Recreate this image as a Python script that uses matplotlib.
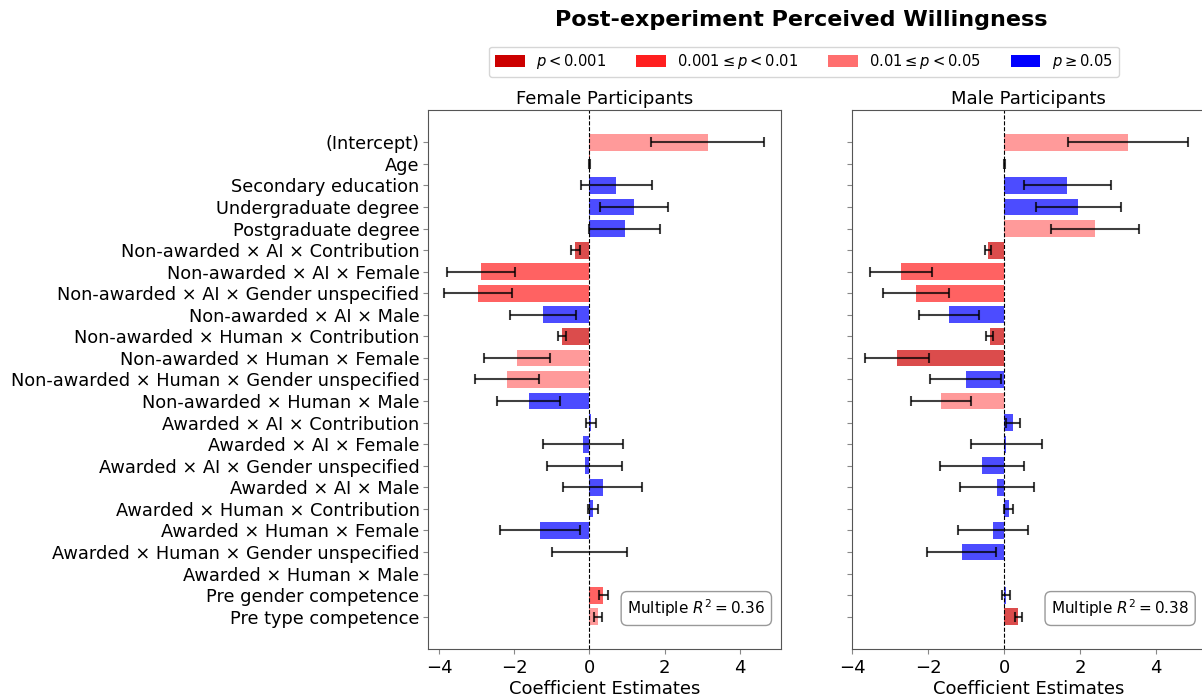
"""Post-experiment perceived willingness: coefficient plot by participant gender"""

import numpy as np
import matplotlib.pyplot as plt
from matplotlib.patches import Patch

terms = [
    "(Intercept)",
    "Age",
    "Secondary education",
    "Undergraduate degree",
    "Postgraduate degree",
    "Non-awarded \u00d7 AI \u00d7 Contribution",
    "Non-awarded \u00d7 AI \u00d7 Female",
    "Non-awarded \u00d7 AI \u00d7 Gender unspecified",
    "Non-awarded \u00d7 AI \u00d7 Male",
    "Non-awarded \u00d7 Human \u00d7 Contribution",
    "Non-awarded \u00d7 Human \u00d7 Female",
    "Non-awarded \u00d7 Human \u00d7 Gender unspecified",
    "Non-awarded \u00d7 Human \u00d7 Male",
    "Awarded \u00d7 AI \u00d7 Contribution",
    "Awarded \u00d7 AI \u00d7 Female",
    "Awarded \u00d7 AI \u00d7 Gender unspecified",
    "Awarded \u00d7 AI \u00d7 Male",
    "Awarded \u00d7 Human \u00d7 Contribution",
    "Awarded \u00d7 Human \u00d7 Female",
    "Awarded \u00d7 Human \u00d7 Gender unspecified",
    "Awarded \u00d7 Human \u00d7 Male",
    "Pre gender competence",
    "Pre type competence",
]

# female participants
female_coef = [3.15, 0.005, 0.72, 1.18, 0.94, -0.38, -2.89, -2.96, -1.24, -0.73,
               -1.93, -2.19, -1.62, 0.04, -0.17, -0.13, 0.36, 0.10, -1.32, 0.0,
               np.nan, 0.37, 0.23]
female_err = [1.50, 0.01, 0.95, 0.91, 0.95, 0.12, 0.90, 0.91, 0.88, 0.10,
              0.87, 0.85, 0.85, 0.14, 1.06, 1.00, 1.05, 0.13, 1.06, 1.00,
              np.nan, 0.12, 0.11]
# significance class: 0 p<0.001, 1 0.001<=p<0.01, 2 0.01<=p<0.05, 3 p>=0.05
female_sig = [2, 0, 3, 3, 3, 0, 1, 1, 3, 0, 2, 2, 3, 3, 3, 3, 3, 3, 3, 3, 3, 1, 2]
female_r2 = 0.36

# male participants
male_coef = [3.27, 0.005, 1.67, 1.96, 2.41, -0.43, -2.72, -2.32, -1.45, -0.38,
             -2.82, -1.01, -1.66, 0.23, 0.06, -0.58, -0.19, 0.12, -0.30, -1.12,
             np.nan, 0.06, 0.38]
male_err = [1.58, 0.01, 1.14, 1.13, 1.16, 0.08, 0.82, 0.86, 0.80, 0.10,
            0.84, 0.94, 0.79, 0.18, 0.93, 1.10, 0.97, 0.12, 0.92, 0.91,
            np.nan, 0.11, 0.09]
male_sig = [2, 0, 3, 3, 2, 0, 1, 1, 3, 0, 0, 3, 2, 3, 3, 3, 3, 3, 3, 3, 3, 3, 0]
male_r2 = 0.38

sig_colors = ["#cc0000", "#ff1f1f", "#ff6f6f", "#0000ff"]
sig_labels = [r"$p < 0.001$", r"$0.001 \leq p < 0.01$",
              r"$0.01 \leq p < 0.05$", r"$p \geq 0.05$"]

plt.rcParams["mathtext.fontset"] = "dejavusans"

fig = plt.figure(figsize=(12.02, 6.96), dpi=100)
ax_f = fig.add_axes([0.356, 0.0675, 0.294, 0.7745])
ax_m = fig.add_axes([0.7085, 0.0675, 0.294, 0.7745])

panels = [
    (ax_f, female_coef, female_err, female_sig, female_r2, "Female Participants", (-4.3, 5.11)),
    (ax_m, male_coef, male_err, male_sig, male_r2, "Male Participants", (-4.02, 5.3)),
]

y = np.arange(len(terms))
for ax, coef, err, sig, r2, title, xlim in panels:
    colors = [sig_colors[s] for s in sig]
    ax.barh(y, np.nan_to_num(coef), height=0.78, color=colors, alpha=0.7)
    ax.errorbar(coef, y, xerr=err, fmt="none", ecolor="black", alpha=0.75,
                elinewidth=1.5, capsize=3.5, capthick=1.5)
    ax.axvline(0, color="black", linestyle="--", linewidth=0.8)
    ax.set_xlim(*xlim)
    ax.set_ylim(len(terms) - 1 + 1.5, -1.5)
    ax.set_yticks(y)
    ax.set_xticks([-4, -2, 0, 2, 4])
    ax.set_title(title, fontsize=13, pad=4)
    ax.set_xlabel("Coefficient Estimates", fontsize=13, labelpad=2)
    ax.tick_params(axis="x", labelsize=13, color="#888888")
    ax.tick_params(axis="y", labelsize=12.8, color="#888888", pad=2.5)
    for sp in ax.spines.values():
        sp.set_color("#555555")
    ax.text(0.955, 0.055, f"Multiple $R^2 = {r2:.2f}$", transform=ax.transAxes,
            ha="right", va="bottom", fontsize=11,
            bbox=dict(boxstyle="round,pad=0.4", facecolor="white", edgecolor="#999999"))

ax_f.set_yticklabels(terms)
ax_m.set_yticklabels([])

fig.suptitle("Post-experiment Perceived Willingness", fontsize=16, fontweight="bold",
             x=0.667, y=0.985)

handles = [Patch(facecolor=c, edgecolor="none") for c in sig_colors]
fig.legend(handles, sig_labels, loc="center", bbox_to_anchor=(0.669, 0.911), ncol=4,
           fontsize=10.6, frameon=True, handlelength=2.0, handleheight=0.9,
           columnspacing=2.0)

fig.savefig("out.png", dpi=100)
